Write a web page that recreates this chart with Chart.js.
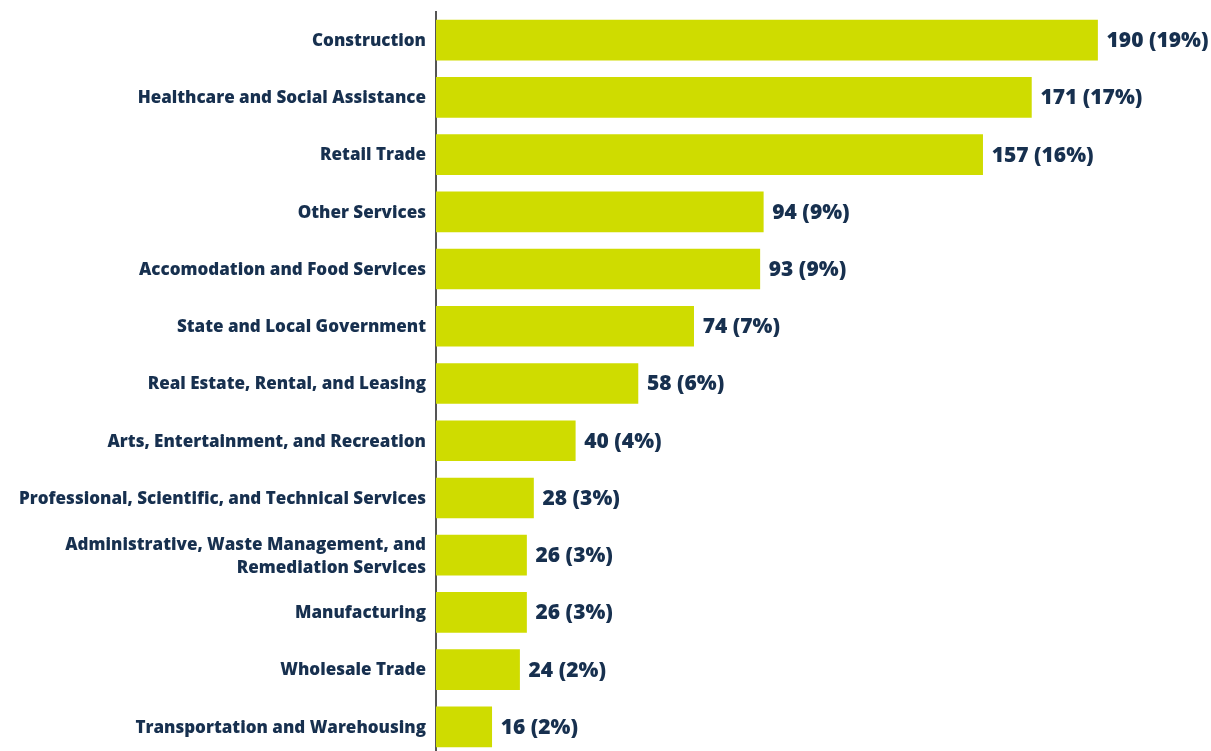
<!DOCTYPE html>
<html>
<head>
<meta charset="utf-8">
<script src="https://cdn.jsdelivr.net/npm/chart.js@4/dist/chart.umd.min.js"></script>
<style>
  html, body { margin: 0; padding: 0; background: #fff; overflow: hidden; }
  #wrap { width: 1211px; height: 760px; position: relative; }
</style>
</head>
<body>
<div id="wrap"><canvas id="industries"></canvas></div>
<script>
var categories = [
  'Construction',
  'Healthcare and Social Assistance',
  'Retail Trade',
  'Other Services',
  'Accomodation and Food Services',
  'State and Local Government',
  'Real Estate, Rental, and Leasing',
  'Arts, Entertainment, and Recreation',
  'Professional, Scientific, and Technical Services',
  ['Administrative, Waste Management, and', 'Remediation Services'],
  'Manufacturing',
  'Wholesale Trade',
  'Transportation and Warehousing'
]
var counts = [190, 171, 157, 94, 93, 74, 58, 40, 28, 26, 26, 24, 16]
var shares = [19, 17, 16, 9, 9, 7, 6, 4, 3, 3, 3, 2, 2]

var navy = '#17304f'

// draws "count (share%)" to the right of each bar
var valueLabels = {
  id: 'valueLabels',
  afterDatasetsDraw: function (chart) {
    var ctx = chart.ctx
    var meta = chart.getDatasetMeta(0)
    ctx.save()
    ctx.font = '800 21px "Open Sans"'
    ctx.fillStyle = navy
    ctx.textBaseline = 'middle'
    ctx.textAlign = 'left'
    meta.data.forEach(function (bar, i) {
      ctx.fillText(counts[i] + ' (' + shares[i] + '%)', bar.x + 9, bar.y + 1)
    })
    ctx.restore()
  }
}

var ctx = document.getElementById('industries').getContext('2d')

new Chart(ctx, {
  type: 'bar',
  data: {
    labels: categories,
    datasets: [{
      data: counts,
      backgroundColor: '#cfdc00',
      barThickness: 40
    }]
  },
  plugins: [valueLabels],
  options: {
    indexAxis: 'y',
    responsive: true,
    maintainAspectRatio: false,
    animation: false,
    layout: { padding: { top: 11.5, bottom: 4.5, left: 0, right: 9 } },
    plugins: {
      legend: { display: false },
      tooltip: { enabled: false }
    },
    scales: {
      x: {
        display: false,
        min: 0,
        max: 220
      },
      y: {
        afterFit: function (scale) {
          scale.width = 436
          scale.paddingTop = 0
          scale.paddingBottom = 0
        },
        grid: { display: false, drawTicks: false },
        border: { display: true, color: '#555555', width: 2 },
        ticks: {
          padding: 10,
          labelOffset: 1,
          color: navy,
          font: { family: 'Open Sans', weight: '800', size: 17, lineHeight: 1.35 }
        }
      }
    }
  }
})
</script>
</body>
</html>
